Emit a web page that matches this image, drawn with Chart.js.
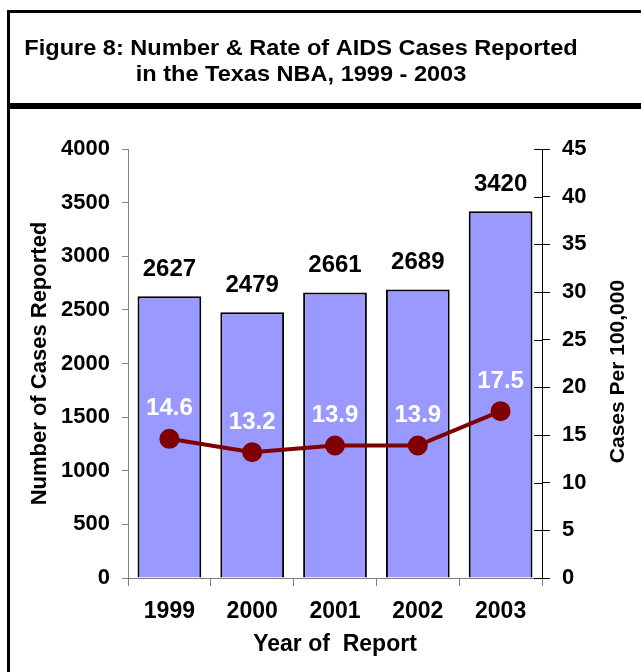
<!DOCTYPE html>
<html>
<head>
<meta charset="utf-8">
<script src="https://cdn.jsdelivr.net/npm/chart.js@4.4.0/dist/chart.umd.min.js"></script>
<style>
  html, body { margin: 0; padding: 0; background: #fff; }
  #wrap { position: relative; width: 641px; height: 672px; }
</style>
</head>
<body>
<div id="wrap"><canvas id="chart" width="641" height="672"></canvas></div>
<script>
// --- Data ---
const years = ["1999", "2000", "2001", "2002", "2003"];
const cases = [2627, 2479, 2661, 2689, 3420];
const rates = [14.6, 13.2, 13.9, 13.9, 17.5];
const titleLines = ["Figure 8: Number & Rate of AIDS Cases Reported", "in the Texas NBA, 1999 - 2003"];

const FONT = "'Liberation Sans', Arial, Helvetica, sans-serif";
Chart.defaults.font.family = FONT;
Chart.defaults.color = "#000";

// frame, title text and the reversed right axis title
const framePlugin = {
    id: "frame",
    beforeDraw(chart) {
        const ctx = chart.ctx;
        ctx.save();
        ctx.fillStyle = "#fff";
        ctx.fillRect(0, 0, chart.width, chart.height);
        ctx.strokeStyle = "#000";
        ctx.lineWidth = 3;
        ctx.beginPath();
        ctx.moveTo(8.5, 10); ctx.lineTo(8.5, chart.height);
        ctx.moveTo(7, 11.5); ctx.lineTo(chart.width, 11.5);
        ctx.stroke();
        ctx.lineWidth = 6;
        ctx.beginPath();
        ctx.moveTo(7, 106); ctx.lineTo(chart.width, 106);
        ctx.stroke();

        ctx.font = `bold 22px ${FONT}`;
        ctx.textAlign = "center";
        ctx.textBaseline = "alphabetic";
        ctx.fillStyle = "#000";
        ctx.translate(301, 0);
        ctx.scale(1.07, 1);
        ctx.fillText(titleLines[0], 0, 55);
        ctx.fillText(titleLines[1], 0, 81);
        ctx.restore();
    },
    afterDraw(chart) {
        const ctx = chart.ctx;
        const y1 = chart.scales.y1;
        ctx.save();
        // inner half of the crossing ticks on the right axis
        ctx.strokeStyle = "#000";
        ctx.lineWidth = 1;
        ctx.beginPath();
        y1.ticks.forEach(t => {
            const py = Math.round(y1.getPixelForValue(t.value)) + 0.5;
            ctx.moveTo(y1.left - 8, py); ctx.lineTo(y1.left, py);
        });
        ctx.stroke();
        // right axis title, reading bottom to top
        const area = chart.chartArea;
        ctx.translate(618, (area.top + area.bottom) / 2 + 8);
        ctx.rotate(-Math.PI / 2);
        ctx.font = `bold 21px ${FONT}`;
        ctx.textAlign = "center";
        ctx.textBaseline = "middle";
        ctx.fillStyle = "#000";
        ctx.fillText("Cases Per 100,000", 0, 0);
        ctx.restore();
    }
};

// value labels above bars and rate points
const labelPlugin = {
    id: "valueLabels",
    afterDatasetsDraw(chart) {
        const ctx = chart.ctx;
        ctx.save();
        ctx.font = `bold 24px ${FONT}`;
        ctx.textAlign = "center";
        ctx.textBaseline = "middle";
        chart.getDatasetMeta(1).data.forEach((el, i) => {
            ctx.fillStyle = "#000";
            ctx.fillText(String(cases[i]), el.x, el.y - 27);
        });
        chart.getDatasetMeta(0).data.forEach((el, i) => {
            ctx.fillStyle = "#fff";
            ctx.fillText(rates[i].toFixed(1), el.x, el.y - 30);
        });
        ctx.restore();
    }
};

new Chart(document.getElementById("chart"), {
    data: {
        labels: years,
        datasets: [
            {
                type: "line", data: rates, yAxisID: "y1", order: 0,
                borderColor: "#800000", borderWidth: 4,
                pointRadius: 8, pointBackgroundColor: "#800000", pointBorderColor: "#800000",
                tension: 0
            },
            {
                type: "bar", data: cases, yAxisID: "y", order: 1,
                backgroundColor: "#9999ff", borderColor: "#000", borderWidth: 2,
                barPercentage: 0.77, categoryPercentage: 1
            }
        ]
    },
    options: {
        responsive: false,
        animation: false,
        layout: { padding: { top: 149, left: 0, right: 0, bottom: 0 } },
        plugins: { legend: { display: false }, tooltip: { enabled: false } },
        scales: {
            x: {
                grid: { offset: true, drawOnChartArea: false, tickLength: 8, color: "#808080" },
                border: { color: "#808080" },
                ticks: { font: { size: 23, weight: "bold" }, padding: 12 },
                title: { display: true, text: "Year of  Report", font: { size: 23, weight: "bold" }, padding: { top: 0, bottom: 14 } },
                afterFit: s => { s.height = 94; }
            },
            y: {
                position: "left", min: 0, max: 4000,
                grid: { drawOnChartArea: false, tickLength: 6, color: "#808080" },
                border: { color: "#808080" },
                ticks: { stepSize: 500, font: { size: 22, weight: "bold" }, padding: 12, callback: v => String(v) },
                title: { display: true, text: "Number of Cases Reported", font: { size: 22, weight: "bold" }, padding: { top: 27, bottom: 0 } },
                afterFit: s => { s.width = 128; }
            },
            y1: {
                position: "right", min: 0, max: 45,
                grid: { drawOnChartArea: false, tickLength: 8, color: "#000" },
                border: { color: "#000" },
                ticks: { stepSize: 5, font: { size: 22, weight: "bold" }, padding: 12, callback: v => String(v) },
                afterFit: s => { s.width = 99; }
            }
        }
    },
    plugins: [framePlugin, labelPlugin]
});
</script>
</body>
</html>
